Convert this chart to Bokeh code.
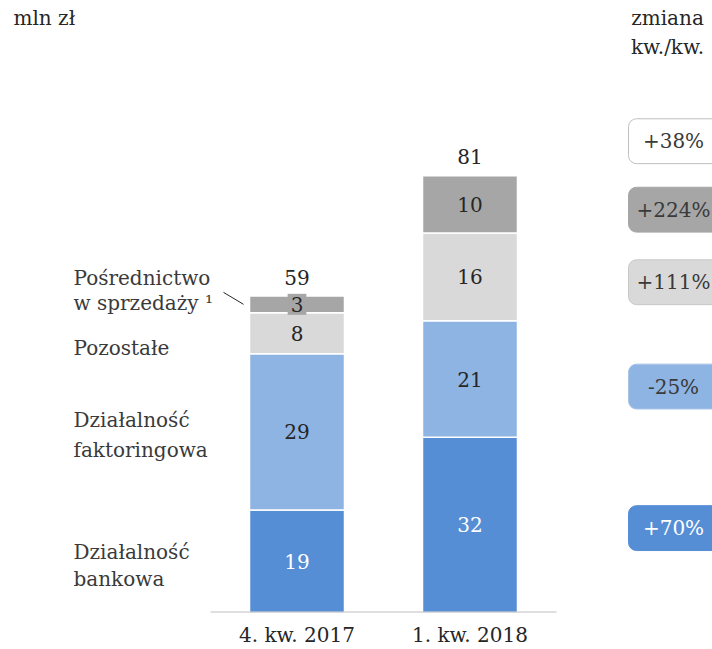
from bokeh.plotting import figure
from bokeh.models import Range1d, FixedTicker
from bokeh.core.properties import value
from bokeh.embed import file_html
from bokeh.resources import INLINE

# ---------------- data ----------------
periods = ["4. kw. 2017", "1. kw. 2018"]
bankowa = [19.0, 32.5]
faktoringowa = [29.0, 21.6]
pozostale = [7.6, 16.3]
posrednictwo = [3.1, 10.6]
bankowa_lbl = ["19", "32"]
faktoringowa_lbl = ["29", "21"]
pozostale_lbl = ["8", "16"]
posrednictwo_lbl = ["3", "10"]
totals_lbl = ["59", "81"]
series_names = [["Działalność", "bankowa"],
                ["Działalność", "faktoringowa"],
                ["Pozostałe"],
                ["Pośrednictwo", "w sprzedaży ¹"]]
changes = ["+70%", "-25%", "+111%", "+224%", "+38%"]

# ---------------- styling ----------------
FONT = value("DejaVu Serif")
FS = "20px"
TXT = "#3a3a3a"
DARK = "#262626"
colors = ["#558ed5", "#8db4e2", "#d9d9d9", "#a6a6a6"]
label_colors = ["white", DARK, DARK, DARK]

W, H = 712, 649
BOTTOM = 35
FRAME_H = H - BOTTOM
X0PX, XSTEP = 296.5, 173.0      # pixel of category 0 and spacing
YSCALE = 5.41                   # px per unit

x_start = -X0PX / XSTEP
x_end = (W - X0PX) / XSTEP
y_end = FRAME_H / YSCALE

def xd(px):  # px from left -> data x
    return (px - X0PX) / XSTEP

def yd(px):  # px from top -> data y
    return (FRAME_H - px) / YSCALE

p = figure(width=W, height=H, output_backend="svg", toolbar_location=None,
           x_range=Range1d(x_start, x_end), y_range=Range1d(0, y_end),
           min_border_left=0, min_border_right=0, min_border_top=0,
           min_border_bottom=BOTTOM)
p.outline_line_color = None
p.xgrid.visible = False
p.ygrid.visible = False
p.yaxis.visible = False
p.background_fill_color = "white"
p.border_fill_color = "white"

xs = list(range(len(periods)))
stack = [bankowa, faktoringowa, pozostale, posrednictwo]
labels = [bankowa_lbl, faktoringowa_lbl, pozostale_lbl, posrednictwo_lbl]
BW = 95 / XSTEP

bottoms = [0.0] * len(xs)
mids_all = []
for vals, col, lbls, lcol in zip(stack, colors, labels, label_colors):
    tops = [b + v for b, v in zip(bottoms, vals)]
    p.vbar(x=xs, width=BW, bottom=bottoms, top=tops, fill_color=col,
           line_color="white", line_width=1.5)
    mids = [(b + t) / 2 for b, t in zip(bottoms, tops)]
    mids_all.append(mids)
    kw = {}
    if col == "#a6a6a6":
        kw = dict(background_fill_color=col, padding=3)
    p.text(x=xs, y=mids, text=lbls, text_font=FONT, text_font_size=FS,
           text_color=lcol, text_align="center", text_baseline="middle", **kw)
    bottoms = tops

totals = bottoms
p.text(x=xs, y=[t + 19 / YSCALE for t in totals], text=totals_lbl,
       text_font=FONT, text_font_size=FS, text_color=DARK,
       text_align="center", text_baseline="middle")

# baseline
p.segment(x0=[-0.5], y0=[0], x1=[len(xs) - 0.5], y1=[0],
          line_color="#bfbfbf", line_width=2)

# x axis labels
p.xaxis.ticker = FixedTicker(ticks=xs)
p.xaxis.major_label_overrides = {i: s for i, s in enumerate(periods)}
p.xaxis.axis_line_color = None
p.xaxis.major_tick_line_color = None
p.xaxis.minor_tick_line_color = None
p.xaxis.major_tick_out = 0
p.xaxis.major_tick_in = 0
p.xaxis.minor_tick_out = 0
p.xaxis.minor_tick_in = 0
p.xaxis.major_label_standoff = 10
p.xaxis.major_label_text_font = "DejaVu Serif"
p.xaxis.major_label_text_font_size = FS
p.xaxis.major_label_text_color = DARK

# left series labels (beside first bar)
LX = xd(73)
offsets = [-0.7, -0.5, -2.7, 2.5]
steps = [27, 30, 28, 25]
for names, mids, off, st in zip(series_names, mids_all, offsets, steps):
    n = len(names)
    c = mids[0] + off
    step = st / YSCALE
    ys = [c + (n - 1) / 2 * step - i * step for i in range(n)]
    p.text(x=[LX] * n, y=ys, text=names, text_font=FONT, text_font_size=FS,
           text_color=TXT, text_align="left", text_baseline="middle")

# connector line to the small segment
bl = xs[0] - BW / 2
p.segment(x0=[bl - 26 / XSTEP], y0=[mids_all[3][0] + 12 / YSCALE],
          x1=[bl - 6 / XSTEP], y1=[mids_all[3][0]],
          line_color=DARK, line_width=1)

# change badges (right column)
badge_y = [mids_all[0][1] - 0.6, mids_all[1][1] - 1.4,
           mids_all[2][1] - 1.0, mids_all[3][1] - 1.0]
badge_y.append(totals[1] + 6.4)
badge_fill = colors + ["white"]
badge_line = ["#558ed5", "#a9c4e6", "#c8c8c8", "#a6a6a6", "#bfbfbf"]
badge_txt = ["white", TXT, TXT, TXT, TXT]
hh = 22.5 / YSCALE
p.quad(left=[xd(628)] * 5, right=[xd(730)] * 5,
       bottom=[y - hh for y in badge_y], top=[y + hh for y in badge_y],
       fill_color=badge_fill, line_color=badge_line, line_width=1,
       border_radius=8)
p.text(x=[xd(673)] * 5, y=badge_y, text=changes, text_font=FONT,
       text_font_size=FS, text_color=badge_txt, text_align="center",
       text_baseline="middle")

# headers
p.text(x=[xd(13)], y=[yd(18)], text=["mln zł"], text_font=FONT,
       text_font_size=FS, text_color=DARK, text_align="left",
       text_baseline="middle")
p.text(x=[xd(667)] * 2, y=[yd(18), yd(47)], text=["zmiana", "kw./kw."],
       text_font=FONT, text_font_size=FS, text_color=DARK,
       text_align="center", text_baseline="middle")

open("out.html", "w").write(file_html(p, INLINE))
